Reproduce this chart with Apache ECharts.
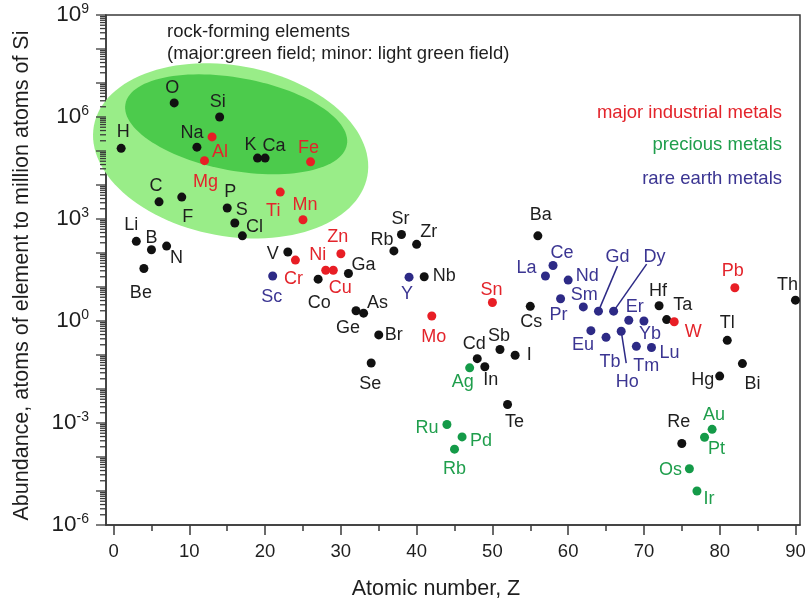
<!DOCTYPE html>
<html>
<head>
<meta charset="utf-8">
<script src="https://cdn.jsdelivr.net/npm/echarts@6/dist/echarts.min.js"></script>
<style>
  html, body { margin: 0; padding: 0; background: #ffffff; }
  #chart { width: 809px; height: 606px; }
</style>
</head>
<body>
<div id="chart"></div>
<script>
// Abundance of the elements in the continental crust,
// in atoms per million atoms of silicon, against atomic number.

// Other (mostly rock-forming and trace) elements
const otherSymbols = ['H','Li','Be','B','C','N','O','F','Na','Si','P','S','Cl','K','Ca','V','Co','Ga','Ge','As','Se','Br','Rb','Sr','Zr','Nb','Cd','In','Sb','Te','I','Cs','Ba','Hf','Ta','Re','Hg','Tl','Bi','Th'];
const otherZ = [1,3,4,5,6,7,8,9,11,14,15,16,17,19,20,23,27,31,32,33,34,35,37,38,40,41,48,49,51,52,53,55,56,72,73,75,80,81,83,90];
const otherAbundance = [1.2e5,220,35,125,3200,160,2.6e6,4400,1.3e5,1e6,2100,760,320,6.2e4,6.2e4,107,17,25,2.0,1.7,0.058,0.39,115,350,180,20,0.078,0.045,0.145,0.0035,0.098,2.7,320,2.8,1.1,2.5e-4,0.024,0.27,0.056,4.1];

// Major industrial metals
const industrialSymbols = ['Mg','Al','Ti','Cr','Mn','Fe','Ni','Cu','Zn','Mo','Sn','W','Pb'];
const industrialZ = [12,13,22,24,25,26,28,29,30,42,50,74,82];
const industrialAbundance = [5.2e4,2.6e5,6200,62,950,4.8e4,31,31,95,1.4,3.5,0.95,9.5];

// Precious metals
const preciousSymbols = ['Ru','Rb','Pd','Ag','Os','Ir','Pt','Au'];
const preciousZ = [44,45,46,47,76,77,78,79];
const preciousAbundance = [9e-4,1.7e-4,3.9e-4,0.042,4.5e-5,1e-5,3.8e-4,6.5e-4];

// Rare earth metals
const rareEarthSymbols = ['Sc','Y','La','Ce','Pr','Nd','Sm','Eu','Gd','Tb','Dy','Ho','Er','Tm','Yb','Lu'];
const rareEarthZ = [21,39,57,58,59,60,62,63,64,65,66,67,68,69,70,71];
const rareEarthAbundance = [21,19.5,21,43,4.5,16,2.6,0.52,1.95,0.33,1.95,0.5,1.05,0.18,1.0,0.166];

// Rock-forming fields: centre (Z, abundance), half-width in Z, half-height in decades, tilt in degrees
const fieldNames = ['minor', 'major'];
const fieldCenterZ = [15.45, 16.18];
const fieldCenterAbundance = [1.01e5, 6.1e5];
const fieldHalfWidthZ = [18.35, 14.86];
const fieldHalfHeightDecades = [2.51, 1.365];
const fieldTilt = [10.4, 10.4];

// Axis tick labels
const xTickValues = [0, 10, 20, 30, 40, 50, 60, 70, 80, 90];
const xMinorTickValues = [5, 15, 25, 35, 45, 55, 65, 75, 85];
const yLabelExponents = [-6, -3, 0, 3, 6, 9];

// ---- styling ----
const FONT = "'Liberation Sans', Arial, sans-serif";
const AXIS_COLOR = '#3a3a3a';
const TEXT_COLOR = '#1e1e1e';
const COLORS = {
  other: { dot: '#111111', text: '#1e1e1e' },
  industrial: { dot: '#e81e25', text: '#e3242b' },
  precious: { dot: '#149a48', text: '#1f9e4c' },
  rare: { dot: '#2d2a86', text: '#3b3592' }
};
const FIELD_COLORS = ['#99ed88', '#4ccb4c'];

// label offsets (px) from the dot centre, keyed by atomic number
const labelOffset = {
  1:[2,-16], 3:[-5,-16], 4:[-3,25], 5:[0,-12], 6:[-3,-16], 7:[10,12], 8:[-2,-15], 9:[6,20],
  11:[-5,-14], 12:[1,21], 13:[8,15], 14:[-2,-15], 15:[3,-16], 16:[7,-13], 17:[12,-9],
  19:[-7,-13], 20:[9,-12], 21:[-1,21], 22:[-7,19], 23:[-15,2], 24:[-2,19], 25:[2,-15],
  26:[-2,-14], 27:[1,24], 28:[-8,-15], 29:[7,18], 30:[-3,-17], 31:[15,-8], 32:[-8,17],
  33:[14,-10], 34:[-1,21], 35:[15,0], 37:[-12,-11], 38:[-1,-15], 39:[-2,17], 40:[12,-12],
  41:[20,-1], 42:[2,21], 44:[-20,3], 45:[0,20], 46:[19,4], 47:[-7,14], 48:[-3,-15],
  49:[6,13], 50:[-1,-12], 51:[-1,-13], 52:[7,18], 53:[14,0], 55:[1,16], 56:[3,-21],
  57:[-19,-8], 58:[9,-12], 59:[-2,16], 60:[19,-4], 62:[1,-12], 63:[-8,14], 64:[19,-54],
  65:[4,25], 66:[41,-54], 67:[6,51], 68:[6,-13], 69:[10,20], 70:[6,13], 71:[18,6],
  72:[-1,-15], 73:[16,-15], 74:[19,10], 75:[-3,-21], 76:[-19,1], 77:[12,8], 78:[12,12],
  79:[2,-14], 80:[-17,4], 81:[0,-17], 82:[-2,-17], 83:[10,20], 90:[-8,-15]
};
// leader lines (px) from the dot to its label, keyed by atomic number
const leaderEnd = { 64:[19,-45], 66:[33,-47], 67:[5,32] };

const X_MIN = -1, X_MAX = 90.6;

function scatterSeries(name, symbols, zs, values, palette) {
  return {
    name: name,
    type: 'scatter',
    symbol: 'circle',
    symbolSize: 9,
    z: 5,
    itemStyle: { color: palette.dot, opacity: 1 },
    label: {
      show: true,
      position: 'inside',
      formatter: '{b}',
      color: palette.text,
      fontSize: 18,
      fontFamily: FONT
    },
    emphasis: { disabled: true },
    data: symbols.map((s, i) => ({
      name: s,
      value: [zs[i], values[i]],
      label: { offset: labelOffset[zs[i]] || [0, -14] }
    }))
  };
}

// rock-forming fields as tilted ellipses placed in data space
const fieldSeries = {
  type: 'custom',
  z: 1,
  silent: true,
  data: fieldNames.map((n, i) => [fieldCenterZ[i], fieldCenterAbundance[i], fieldHalfWidthZ[i], fieldHalfHeightDecades[i], fieldTilt[i]]),
  renderItem: function (params, api) {
    const z = api.value(0), a = api.value(1);
    const hz = api.value(2), hd = api.value(3), tilt = api.value(4) * Math.PI / 180;
    const c = api.coord([z, a]);
    const rx = api.coord([z + hz, a])[0] - c[0];
    const ry = c[1] - api.coord([z, a * Math.pow(10, hd)])[1];
    const pts = [];
    const n = 120;
    for (let k = 0; k < n; k++) {
      const t = k / n * Math.PI * 2;
      const ex = rx * Math.cos(t), ey = ry * Math.sin(t);
      pts.push([c[0] + ex * Math.cos(tilt) - ey * Math.sin(tilt),
                c[1] + ex * Math.sin(tilt) + ey * Math.cos(tilt)]);
    }
    return { type: 'polygon', shape: { points: pts }, style: { fill: FIELD_COLORS[params.dataIndex] } };
  }
};

// logarithmic ticks on the abundance axis (decades and 2..9 subdivisions)
const yTickValues = [];
for (let e = -6; e <= 9; e++) {
  yTickValues.push([Math.pow(10, e), 1]);
  if (e < 9) for (let m = 2; m <= 9; m++) yTickValues.push([m * Math.pow(10, e), 0]);
}
const yTickSeries = {
  type: 'custom',
  z: 3,
  silent: true,
  clip: false,
  data: yTickValues.map(v => [X_MIN, v[0], v[1]]),
  renderItem: function (params, api) {
    const p = api.coord([api.value(0), api.value(1)]);
    const len = api.value(2) ? 10 : 6;
    return {
      type: 'line',
      shape: { x1: p[0] - len, y1: p[1], x2: p[0], y2: p[1] },
      style: { stroke: AXIS_COLOR, lineWidth: 1.3 }
    };
  }
};

// leader lines for crowded rare-earth labels
const leaderZ = Object.keys(leaderEnd).map(Number);
const leaderSeries = {
  type: 'custom',
  z: 4,
  silent: true,
  data: leaderZ.map(z => [z, rareEarthAbundance[rareEarthZ.indexOf(z)]]),
  renderItem: function (params, api) {
    const z = api.value(0);
    const p = api.coord([z, api.value(1)]);
    const d = leaderEnd[z];
    return {
      type: 'line',
      shape: { x1: p[0], y1: p[1], x2: p[0] + d[0], y2: p[1] + d[1] },
      style: { stroke: COLORS.rare.dot, lineWidth: 1.5 }
    };
  }
};

const chart = echarts.init(document.getElementById('chart'), null, { renderer: 'canvas' });

chart.setOption({
  animation: false,
  backgroundColor: '#ffffff',
  textStyle: { fontFamily: FONT },
  grid: {
    left: 106, right: 9, top: 15, bottom: 81,
    show: true, borderColor: AXIS_COLOR, borderWidth: 1.5, backgroundColor: 'transparent',
    containLabel: false
  },
  xAxis: [{
    type: 'value',
    min: X_MIN,
    max: X_MAX,
    position: 'bottom',
    axisLine: { show: true, onZero: false, lineStyle: { color: AXIS_COLOR, width: 1.5 } },
    axisTick: { show: true, inside: false, length: 10, customValues: xTickValues, lineStyle: { color: AXIS_COLOR, width: 1.5 } },
    axisLabel: { show: true, customValues: xTickValues, margin: 17, fontSize: 18.5, color: TEXT_COLOR, fontFamily: FONT },
    splitLine: { show: false },
    name: 'Atomic number, Z',
    nameLocation: 'middle',
    nameGap: 53,
    nameTextStyle: { fontSize: 21.5, color: TEXT_COLOR, fontFamily: FONT, padding: [0, 34, 0, 0] }
  }, {
    type: 'value',
    min: X_MIN,
    max: X_MAX,
    position: 'bottom',
    axisLine: { show: false },
    axisTick: { show: true, inside: false, length: 6, customValues: xMinorTickValues, lineStyle: { color: AXIS_COLOR, width: 1.5 } },
    axisLabel: { show: false },
    splitLine: { show: false }
  }],
  yAxis: {
    type: 'log',
    logBase: 10,
    min: 1e-6,
    max: 1e9,
    interval: 1,
    axisLine: { show: true, onZero: false, lineStyle: { color: AXIS_COLOR, width: 1.5 } },
    axisTick: { show: false },
    axisLabel: {
      show: true,
      margin: 17,
      formatter: function (v) {
        const e = Math.round(Math.log10(v));
        return yLabelExponents.indexOf(e) >= 0 ? '{b|10}{s|' + e + '}' : '';
      },
      rich: {
        b: { fontSize: 22.5, lineHeight: 26, color: TEXT_COLOR, fontFamily: FONT },
        s: { fontSize: 14, lineHeight: 14, verticalAlign: 'top', color: TEXT_COLOR, fontFamily: FONT }
      }
    },
    splitLine: { show: false },
    name: 'Abundance, atoms of element to million atoms of Si',
    nameLocation: 'middle',
    nameGap: 73,
    nameTextStyle: { fontSize: 21.5, color: TEXT_COLOR, fontFamily: FONT, padding: [0, 11, 0, 0] }
  },
  graphic: [
    { type: 'text', x: 167, y: 32, z: 10, style: { text: 'rock-forming elements', font: "18.5px 'Liberation Sans', Arial, sans-serif", fill: TEXT_COLOR, align: 'left', verticalAlign: 'middle', textAlign: 'left', textVerticalAlign: 'middle' } },
    { type: 'text', x: 167, y: 54, z: 10, style: { text: '(major:green field; minor: light green field)', font: "18.5px 'Liberation Sans', Arial, sans-serif", fill: TEXT_COLOR, align: 'left', verticalAlign: 'middle', textAlign: 'left', textVerticalAlign: 'middle' } },
    { type: 'text', x: 782, y: 113, z: 10, style: { text: 'major industrial metals', font: "18.5px 'Liberation Sans', Arial, sans-serif", fill: COLORS.industrial.text, align: 'right', verticalAlign: 'middle', textAlign: 'right', textVerticalAlign: 'middle' } },
    { type: 'text', x: 782, y: 145, z: 10, style: { text: 'precious metals', font: "18.5px 'Liberation Sans', Arial, sans-serif", fill: COLORS.precious.text, align: 'right', verticalAlign: 'middle', textAlign: 'right', textVerticalAlign: 'middle' } },
    { type: 'text', x: 782, y: 179, z: 10, style: { text: 'rare earth metals', font: "18.5px 'Liberation Sans', Arial, sans-serif", fill: COLORS.rare.text, align: 'right', verticalAlign: 'middle', textAlign: 'right', textVerticalAlign: 'middle' } }
  ],
  series: [
    fieldSeries,
    yTickSeries,
    leaderSeries,
    scatterSeries('other', otherSymbols, otherZ, otherAbundance, COLORS.other),
    scatterSeries('major industrial metals', industrialSymbols, industrialZ, industrialAbundance, COLORS.industrial),
    scatterSeries('precious metals', preciousSymbols, preciousZ, preciousAbundance, COLORS.precious),
    scatterSeries('rare earth metals', rareEarthSymbols, rareEarthZ, rareEarthAbundance, COLORS.rare)
  ]
});
</script>
</body>
</html>
